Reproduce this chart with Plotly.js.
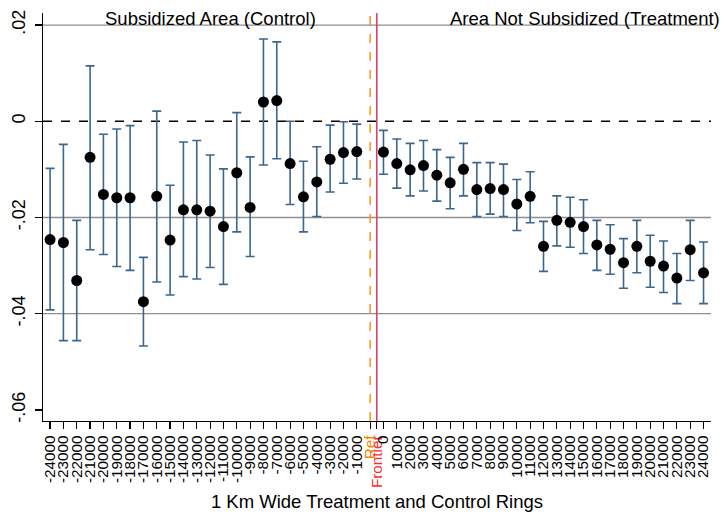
<!DOCTYPE html>
<html>
<head>
<meta charset="utf-8">
<script src="https://cdn.plot.ly/plotly-3.0.1.min.js"></script>
<style>html,body{margin:0;padding:0;background:#fff;}#chart{width:725px;height:518px;}</style>
</head>
<body>
<div id="chart"></div>
<script>
// Control rings (subsidized area)
const controlRings = [-24000,-23000,-22000,-21000,-20000,-19000,-18000,-17000,-16000,-15000,-14000,-13000,-12000,-11000,-10000,-9000,-8000,-7000,-6000,-5000,-4000,-3000,-2000,-1000];
const controlEst = [-0.0246,-0.0252,-0.0331,-0.0075,-0.0152,-0.0159,-0.0159,-0.0375,-0.0156,-0.0247,-0.0184,-0.0184,-0.0187,-0.0219,-0.0107,-0.0179,0.0040,0.0043,-0.0088,-0.0157,-0.0126,-0.0079,-0.0065,-0.0063];
const controlLo  = [-0.0392,-0.0456,-0.0456,-0.0267,-0.0277,-0.0302,-0.0310,-0.0467,-0.0334,-0.0361,-0.0323,-0.0328,-0.0304,-0.0339,-0.0230,-0.0281,-0.0091,-0.0078,-0.0173,-0.0230,-0.0198,-0.0147,-0.0129,-0.0120];
const controlHi  = [-0.0098,-0.0048,-0.0206,0.0115,-0.0027,-0.0016,-0.0009,-0.0283,0.0021,-0.0133,-0.0043,-0.0040,-0.0070,-0.0099,0.0018,-0.0074,0.0171,0.0165,0.0000,-0.0083,-0.0053,-0.0008,-0.0001,-0.0006];

// Treatment rings (area not subsidized)
const treatRings = [0,1000,2000,3000,4000,5000,6000,7000,8000,9000,10000,11000,12000,13000,14000,15000,16000,17000,18000,19000,20000,21000,22000,23000,24000];
const treatEst = [-0.0064,-0.0088,-0.0101,-0.0092,-0.0112,-0.0128,-0.0100,-0.0142,-0.0140,-0.0142,-0.0172,-0.0156,-0.0260,-0.0206,-0.0210,-0.0219,-0.0257,-0.0266,-0.0294,-0.0260,-0.0291,-0.0301,-0.0326,-0.0267,-0.0315];
const treatLo  = [-0.0110,-0.0139,-0.0155,-0.0145,-0.0166,-0.0182,-0.0155,-0.0198,-0.0193,-0.0198,-0.0227,-0.0211,-0.0312,-0.0259,-0.0262,-0.0275,-0.0310,-0.0318,-0.0347,-0.0315,-0.0345,-0.0356,-0.0379,-0.0331,-0.0379];
const treatHi  = [-0.0019,-0.0037,-0.0046,-0.0040,-0.0059,-0.0075,-0.0046,-0.0086,-0.0086,-0.0089,-0.0121,-0.0105,-0.0208,-0.0155,-0.0158,-0.0163,-0.0206,-0.0215,-0.0244,-0.0206,-0.0237,-0.0249,-0.0275,-0.0206,-0.0251];

// Y tick labels
const yTickVals = [-0.06,-0.04,-0.02,0,0.02];
const yTickText = ['-.06','-.04','-.02','0','.02'];
const gridVals = [0.02,-0.02,-0.04];

// Reference markers
const refLabel = 'Ref';
const frontierLabel = 'Frontier';

// Position mapping on the ring axis (treatment side shifted one slot right)
const cPos = controlRings.map(r => r/1000);
const tPos = treatRings.map(r => r/1000 + 1);
const refPos = 0, frontierPos = 0.5;

const tickVals = cPos.concat([refPos, frontierPos], tPos);
const tickText = controlRings.map(String).concat(
  ['<span style="color:#f08a00">'+refLabel+'</span>', '<span style="color:#ff2a2a">'+frontierLabel+'</span>'],
  treatRings.map(String));

const barColor = '#3b668f';
const font = 'Liberation Sans, Arial, sans-serif';

function trace(x, est, lo, hi) {
  return {
    type: 'scatter', mode: 'markers', x: x, y: est,
    marker: {color: '#000', size: 11},
    error_y: {type: 'data', symmetric: false,
      array: hi.map((h,i) => h - est[i]),
      arrayminus: lo.map((l,i) => est[i] - l),
      color: barColor, thickness: 1.6, width: 4.5},
    showlegend: false, hoverinfo: 'x+y'
  };
}

const shapes = gridVals.map(v => ({type:'line', xref:'paper', x0:0, x1:1, yref:'y', y0:v, y1:v,
  line:{color:'#8f8f8f', width:1.3}, layer:'below'}));
shapes.push({type:'line', xref:'paper', x0:0, x1:1, yref:'y', y0:0, y1:0, line:{color:'#000', width:1.3, dash:'dash'}, layer:'below'});
shapes.push({type:'line', xref:'x', x0:refPos, x1:refPos, yref:'paper', y0:0, y1:1, line:{color:'#ff8c00', width:1.4, dash:'dash'}, layer:'below'});
shapes.push({type:'line', xref:'x', x0:frontierPos, x1:frontierPos, yref:'paper', y0:0, y1:1, line:{color:'#d4466a', width:1.6}, layer:'below'});

const layout = {
  width: 725, height: 518,
  margin: {l: 43, r: 14, t: 13, b: 97},
  paper_bgcolor: '#fff', plot_bgcolor: '#fff',
  font: {family: font, color: '#000'},
  xaxis: {
    range: [-24.53, 25.56], tickmode: 'array', tickvals: tickVals, ticktext: tickText,
    tickangle: -90, tickfont: {size: 15.3, family: font, color: '#000'},
    ticks: 'outside', ticklen: 7, tickcolor: '#000', tickwidth: 1.2,
    showgrid: false, zeroline: false, showline: true, linecolor: '#000', linewidth: 1.3,
    title: {text: '1 Km Wide Treatment and Control Rings', font: {size: 18.5, family: font, color: '#000'}, standoff: 8}
  },
  yaxis: {
    range: [-0.0623, 0.0225], tickmode: 'array', tickvals: yTickVals, ticktext: yTickText,
    tickangle: -90, tickfont: {size: 18, family: font, color: '#000'},
    ticks: 'outside', ticklen: 7, tickcolor: '#000', tickwidth: 1.2, ticklabelstandoff: 3,
    showgrid: false, zeroline: false, showline: true, linecolor: '#000', linewidth: 1.3
  },
  shapes: shapes,
  annotations: [
    {text: 'Subsidized Area (Control)', x: -12, xref: 'x', y: 0.0214, yref: 'y', showarrow: false,
     font: {size: 18.5, family: font, color: '#000'}, xanchor: 'center', yanchor: 'middle'},
    {text: 'Area Not Subsidized (Treatment)', x: 16.1, xref: 'x', y: 0.0214, yref: 'y', showarrow: false,
     font: {size: 18.5, family: font, color: '#000'}, xanchor: 'center', yanchor: 'middle'}
  ]
};

Plotly.newPlot('chart', [trace(cPos, controlEst, controlLo, controlHi), trace(tPos, treatEst, treatLo, treatHi)], layout, {displayModeBar: false, staticPlot: true});
</script>
</body>
</html>
